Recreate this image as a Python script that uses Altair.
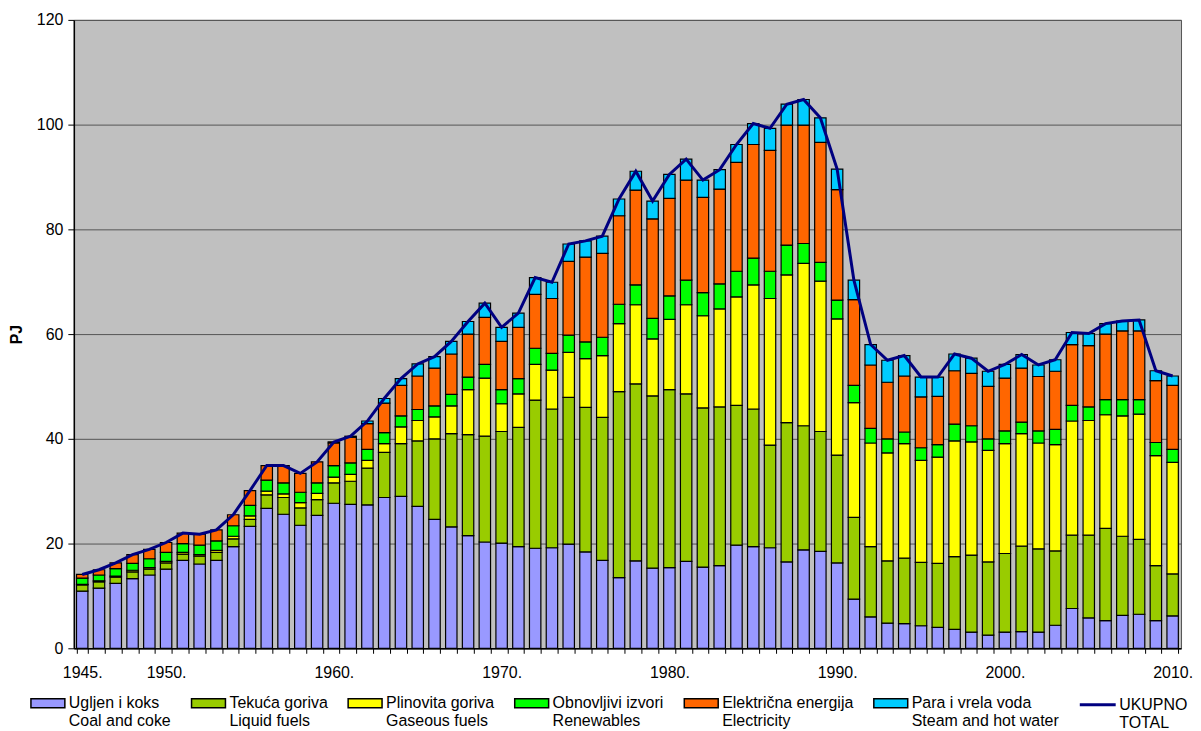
import altair as alt
import pandas as pd

years = list(range(1945, 2011))

coal = [10.9, 11.5, 12.4, 13.3, 14.0, 15.1, 16.8, 16.1, 16.8, 19.4,
        23.3, 26.7, 25.6, 23.5, 25.4, 27.7, 27.5, 27.4, 28.8, 29.0,
        27.1, 24.6, 23.2, 21.5, 20.3, 20.1, 19.4, 19.1, 19.2, 19.9,
        18.4, 16.8, 13.5, 16.7, 15.3, 15.4, 16.6, 15.5, 15.8, 19.7,
        19.4, 19.2, 16.5, 18.8, 18.5, 16.3, 9.4, 6.0, 4.8, 4.7,
        4.3, 4.0, 3.6, 3.1, 2.5, 3.1, 3.2, 3.1, 4.4, 7.6,
        5.8, 5.3, 6.3, 6.5, 5.3, 6.2]
liquid = [1.2, 1.2, 1.2, 1.3, 1.1, 1.2, 1.2, 1.5, 1.5, 1.5,
          1.3, 2.6, 3.2, 3.3, 3.0, 3.9, 4.4, 7.0, 8.6, 10.1,
          12.5, 15.4, 17.8, 19.3, 20.2, 21.3, 22.8, 28.3, 26.5, 28.0,
          27.6, 27.3, 35.5, 33.8, 32.9, 34.0, 32.0, 30.4, 30.3, 26.7,
          26.3, 19.6, 26.6, 23.7, 22.9, 20.6, 15.6, 13.4, 11.9, 12.5,
          12.1, 12.2, 13.9, 14.7, 14.0, 15.0, 16.3, 15.9, 14.2, 14.0,
          15.8, 17.6, 15.1, 14.3, 10.5, 8.0]
gas = [0.1, 0.2, 0.2, 0.3, 0.3, 0.3, 0.3, 0.3, 0.4, 0.5,
       0.7, 0.7, 0.7, 1.0, 1.2, 1.1, 1.3, 1.5, 1.7, 3.2,
       3.9, 4.2, 5.3, 8.6, 11.1, 5.3, 6.4, 6.8, 7.4, 8.6,
       9.3, 11.8, 13.0, 15.1, 10.9, 13.4, 17.0, 17.6, 18.7, 20.7,
       23.7, 28.0, 28.2, 31.0, 28.7, 26.0, 21.9, 19.8, 20.6, 21.9,
       19.5, 20.3, 22.1, 21.6, 21.3, 21.0, 21.5, 20.2, 20.3, 21.8,
       21.9, 21.7, 23.0, 23.9, 21.0, 21.3]
renew = [1.2, 1.1, 1.4, 1.3, 1.7, 1.7, 1.7, 1.8, 1.8, 2.0,
         2.0, 2.1, 2.1, 2.0, 2.0, 2.2, 2.2, 2.1, 2.1, 2.1,
         2.1, 2.1, 2.2, 2.4, 2.6, 2.7, 2.9, 3.1, 3.2, 3.3,
         3.2, 3.5, 3.7, 3.8, 3.9, 4.5, 4.7, 4.4, 4.8, 4.9,
         5.1, 5.2, 5.7, 3.8, 3.6, 3.6, 3.3, 2.8, 2.7, 2.2,
         2.4, 2.4, 3.2, 3.1, 2.2, 2.4, 2.2, 2.3, 2.9, 3.0,
         2.6, 2.9, 3.1, 2.8, 2.5, 2.5]
elec = [0.7, 1.0, 1.1, 1.7, 1.8, 1.9, 2.0, 2.1, 2.1, 2.1,
        2.8, 2.8, 3.3, 3.6, 4.0, 4.3, 4.9, 4.9, 5.6, 5.8,
        6.4, 7.2, 7.7, 8.2, 9.0, 9.2, 9.8, 10.3, 10.5, 14.1,
        16.2, 16.0, 16.9, 18.1, 19.0, 18.6, 19.1, 18.2, 18.1, 20.8,
        21.7, 23.1, 22.9, 22.6, 22.9, 21.1, 16.4, 12.1, 10.8, 10.7,
        9.7, 9.2, 10.2, 10.0, 10.0, 10.1, 10.3, 10.4, 11.1, 11.6,
        11.7, 12.5, 13.1, 13.1, 11.8, 12.2]
steam = [0, 0, 0, 0, 0, 0, 0, 0, 0, 0,
         0, 0, 0, 0, 0, 0.2, 0.2, 0.5, 0.9, 1.3,
         2.3, 2.2, 2.4, 2.4, 2.7, 2.7, 2.7, 3.2, 3.1, 3.3,
         3.1, 3.3, 3.2, 3.6, 3.4, 4.6, 4.0, 3.3, 3.7, 3.4,
         4.0, 4.2, 4.0, 4.9, 4.7, 3.9, 3.7, 3.9, 4.2, 3.9,
         3.8, 3.7, 3.2, 2.9, 2.9, 2.6, 2.6, 2.2, 2.2, 2.3,
         2.3, 2.0, 1.9, 2.1, 1.9, 1.8]

series_hr = ["Ugljen i koks", "Tekuća goriva", "Plinovita goriva",
             "Obnovljivi izvori", "Električna energija", "Para i vrela voda"]
series_en = ["Coal and coke", "Liquid fuels", "Gaseous fuels",
             "Renewables", "Electricity", "Steam and hot water"]
colors = ["#9999FF", "#99CC00", "#FFFF00", "#00FF00", "#FF6600", "#00CCFF"]
total_name = "UKUPNO|TOTAL"
total_color = "#000080"
label_years = [1945, 1950, 1960, 1970, 1980, 1990, 2000, 2010]

domain = [h + "|" + e for h, e in zip(series_hr, series_en)]
rows = []
for k, vals in enumerate([coal, liquid, gas, renew, elec, steam]):
    for yr, v in zip(years, vals):
        rows.append({"year": yr, "series": domain[k], "idx": k, "value": v})
df = pd.DataFrame(rows)

FONT = "Liberation Sans"

xenc = alt.X(
    "year:O", title=None,
    scale=alt.Scale(paddingInner=0.32, paddingOuter=0.16),
    axis=alt.Axis(
        labelExpr="indexof(" + str(label_years) + ", datum.value) >= 0 ? datum.value + '.' : ''",
        labelAngle=0, labelOverlap=False, tickBand="extent", tickSize=5,
        labelPadding=11, grid=False,
    ),
)

bars = alt.Chart(df).transform_filter("datum.value > 0").mark_bar(
    stroke="black", strokeWidth=1.2
).encode(
    x=xenc,
    y=alt.Y("value:Q", stack="zero",
            scale=alt.Scale(domain=[0, 120], nice=False),
            axis=alt.Axis(values=[0, 20, 40, 60, 80, 100, 120], title="PJ",
                          titleFontWeight="bold", titleFontSize=16, titleFont=FONT,
                          titlePadding=12, tickSize=6, labelPadding=5,
                          grid=True, gridColor="#555555", gridWidth=1)),
    color=alt.Color("series:N", scale=alt.Scale(domain=domain, range=colors),
                    legend=alt.Legend(
                        title=None, orient="none", legendX=-44, legendY=667,
                        direction="horizontal", columns=6, gridAlign="none",
                        columnPadding=17, labelOffset=3, padding=0,
                        symbolType="M-1,-0.265H1V0.265H-1Z", symbolSize=1156,
                        symbolStrokeColor="black", symbolStrokeWidth=1.5,
                        labelFont=FONT, labelFontSize=16, labelLimit=400,
                        labelExpr="split(datum.label, '|')",
                        labelBaseline="middle", labelColor="black",
                    )),
    order=alt.Order("idx:Q", sort="ascending"),
)

line = alt.Chart(df).transform_aggregate(
    total="sum(value)", groupby=["year"]
).transform_calculate(lbl="'" + total_name + "'").mark_line(
    strokeWidth=3
).encode(
    x=alt.X("year:O", bandPosition=0.5),
    y=alt.Y("total:Q"),
    color=alt.Color("lbl:N", scale=alt.Scale(domain=[total_name], range=[total_color]),
                    legend=alt.Legend(
                        title=None, orient="none", legendX=1007, legendY=667,
                        direction="horizontal", padding=0, labelOffset=2,
                        symbolType="M-1,0H1", symbolSize=1296, symbolStrokeWidth=3,
                        labelFont=FONT, labelFontSize=16, labelLimit=400,
                        labelExpr="split(datum.label, '|')",
                        labelBaseline="middle", labelColor="black",
                    )),
)

chart = alt.layer(bars, line).resolve_scale(color="independent").resolve_legend(
    color="independent"
).properties(
    width=1110, height=630,
    autosize=alt.AutoSizeParams(type="none"),
    padding={"left": 66, "top": 11, "right": 12, "bottom": 82},
).configure_view(
    fill="#C0C0C0", stroke="#555555", strokeWidth=1
).configure_axis(
    labelFont=FONT, labelFontSize=16, labelColor="black",
    domainColor="black", domainWidth=1.5, tickColor="black", tickWidth=1,
)

chart.save("out.html", embed_options={"renderer": "svg", "actions": False})
